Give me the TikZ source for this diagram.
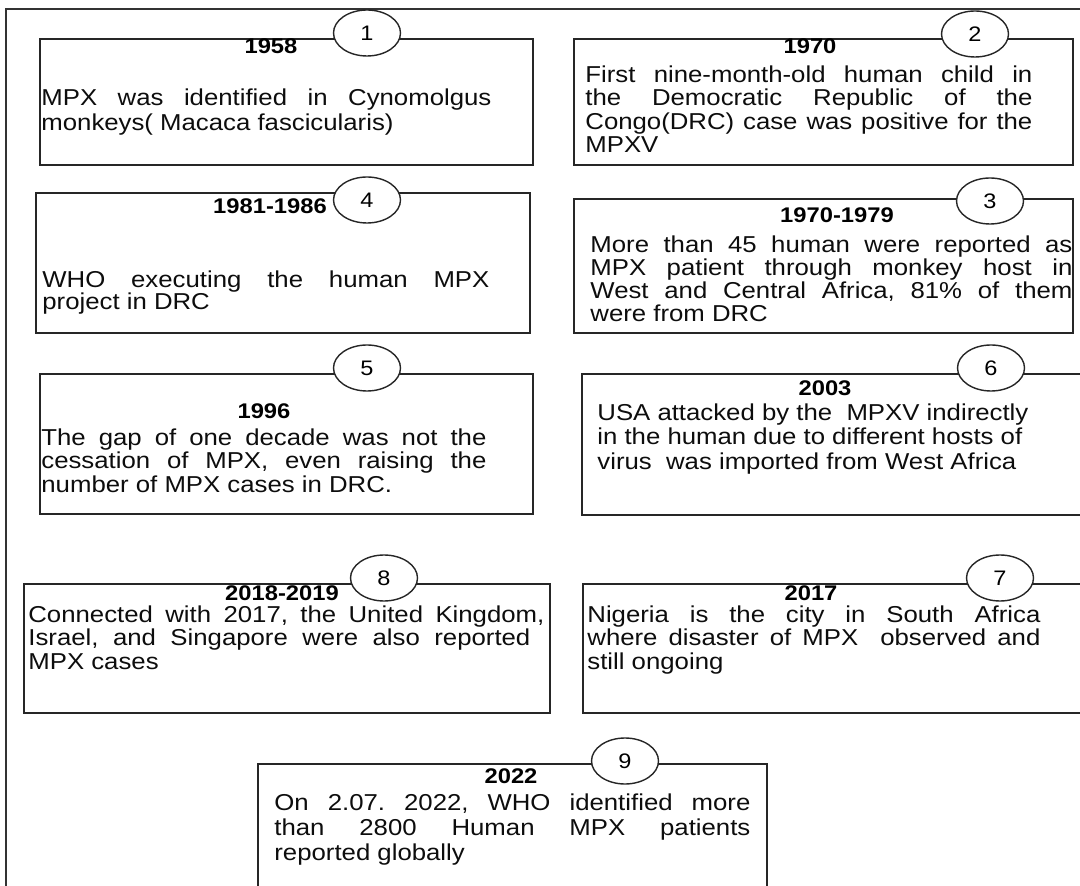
\documentclass[tikz,border=0pt]{standalone}
\usepackage{fontspec}
\setmainfont{Liberation Sans}[FakeStretch=1.12]
\usetikzlibrary{shapes.geometric}
\frenchspacing
\begin{document}
\frenchspacing
\begin{tikzpicture}[x=0.5pt,y=-0.5pt,
  boxst/.style={draw=black!85, line width=0.8pt, inner sep=0pt, anchor=north west},
  numst/.style={ellipse, draw=black!85, fill=white, line width=0.7pt, minimum width=33.5pt, minimum height=23pt, inner sep=0pt, font=\fontsize{10.5}{12}\selectfont},
  yearst/.style={inner sep=0pt, font=\bfseries\fontsize{10.6}{12}\selectfont},
  txt/.style={anchor=north west, inner sep=0pt, align=left, text=black!95, font=\fontsize{11.5}{11.75}\selectfont},
  framest/.style={draw=black!80, line width=0.7pt}]
\useasboundingbox (0,0) rectangle (1080,886);
\clip (0,0) rectangle (1080,886);
\fill[white] (0,0) rectangle (1080,886);
\draw[framest] (6,900) -- (6,9) -- (1090,9);
% boxes
\node[boxst, minimum width=246.5pt, minimum height=63pt] (b1) at (39,38) {};
\node[boxst, minimum width=249.5pt, minimum height=63pt] (b2) at (573,38) {};
\node[boxst, minimum width=247pt, minimum height=70pt] (b4) at (35,192) {};
\node[boxst, minimum width=249.5pt, minimum height=67pt] (b3) at (573,198) {};
\node[boxst, minimum width=246.5pt, minimum height=70pt] (b5) at (39,373) {};
\node[boxst, minimum width=259.5pt, minimum height=70.5pt] (b6) at (581,373) {};
\node[boxst, minimum width=263pt, minimum height=64.5pt] (b8) at (23,583) {};
\node[boxst, minimum width=259pt, minimum height=64.5pt] (b7) at (582,583) {};
\node[boxst, minimum width=254.5pt, minimum height=68.5pt] (b9) at (257,763) {};
% numbered ellipses
\node[numst] (c1) at (367,33) {1};
\node[numst] (c2) at (975,34) {2};
\node[numst] (c3) at (990,201) {3};
\node[numst] (c4) at (367,200) {4};
\node[numst] (c5) at (367,368) {5};
\node[numst] (c6) at (991,368) {6};
\node[numst] (c7) at (1000,578) {7};
\node[numst] (c8) at (384,578) {8};
\node[numst] (c9) at (625,761) {9};
% years
\node[yearst] (y1) at (271,46) {1958};
\node[yearst] (y2) at (810,46) {1970};
\node[yearst] (y4) at (270,206) {1981-1986};
\node[yearst] (y3) at (837,215) {1970-1979};
\node[yearst] (y5) at (264,411) {1996};
\node[yearst] (y6) at (825,388) {2003};
\node[yearst] (y8) at (282,593) {2018-2019};
\node[yearst] (y7) at (811,593) {2017};
\node[yearst] (y9) at (511,776) {2022};
% texts
\node[txt, font=\fontsize{11.5}{12.5}\selectfont] (t1) at (41,88) {\makebox[225pt][s]{MPX was identified in Cynomolgus}\\monkeys( Macaca fascicularis)};
\node[txt] (t2) at (585,65) {\makebox[223.5pt][s]{First nine-month-old human child in}\\\makebox[223.5pt][s]{the Democratic Republic of the}\\\makebox[223.5pt][s]{Congo(DRC) case was positive for the}\\MPXV};
\node[txt, font=\fontsize{11.5}{11.65}\selectfont] (t3) at (590,235) {\makebox[241pt][s]{More than 45 human were reported as}\\\makebox[241pt][s]{MPX patient through monkey host in}\\\makebox[241pt][s]{West and Central Africa, 81\% of them}\\were from DRC};
\node[txt, font=\fontsize{11.5}{11}\selectfont] (t4) at (42,270) {\makebox[223.5pt][s]{WHO executing the human MPX}\\project in DRC};
\node[txt] (t5) at (41,428) {\makebox[222.5pt][s]{The gap of one decade was not the}\\\makebox[222.5pt][s]{cessation of MPX, even raising the}\\number of MPX cases in DRC.};
\node[txt, font=\fontsize{11.5}{12.25}\selectfont] (t6) at (597,403) {USA attacked by the~ MPXV indirectly\\in the human due to different hosts of\\virus~ was imported from West Africa};
\node[txt] (t7) at (587,605) {\makebox[226.5pt][s]{Nigeria is the city in South Africa}\\\makebox[226.5pt][s]{where disaster of MPX~ observed and}\\still ongoing};
\node[txt] (t8) at (28,605) {\makebox[258pt][s]{Connected with 2017, the United Kingdom,}\\\makebox[251pt][s]{Israel, and Singapore were also reported}\\MPX cases};
\node[txt, font=\fontsize{11.5}{12.5}\selectfont] (t9) at (274,793) {\makebox[238pt][s]{On 2.07. 2022, WHO identified more}\\\makebox[238pt][s]{than 2800 Human MPX patients}\\reported globally};
\end{tikzpicture}
\end{document}
